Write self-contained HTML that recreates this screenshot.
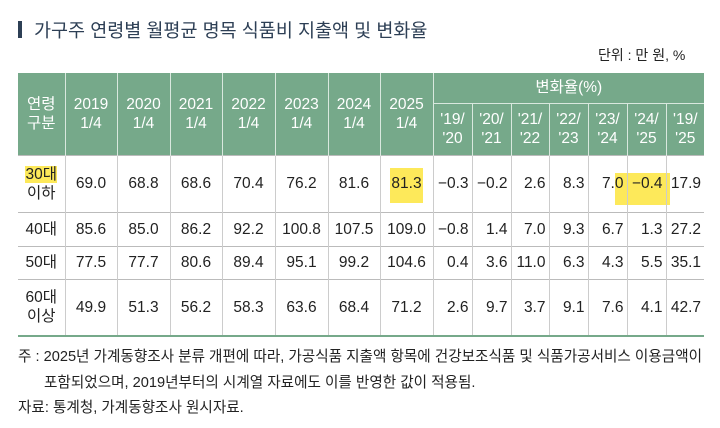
<!DOCTYPE html>
<html><head><meta charset="utf-8"><style>
body{margin:0;width:720px;height:428px;background:#fff;font-family:"Liberation Sans","Noto Sans CJK KR",sans-serif;color:#222;position:relative;overflow:hidden}
.a{position:absolute}
table{position:absolute;left:18px;top:73px;border-collapse:collapse;table-layout:fixed;width:686px}
td,th{padding:0;text-align:center;font-size:15.5px;font-weight:normal;line-height:19px}
th{background:#76a98a;color:#fff;border-left:1.5px solid #d9e8de;border-right:1.5px solid #d9e8de}
th:first-child{border-left:none}
td{border-left:1px solid #ccc;border-top:1px solid #bbb;color:#222}
td:first-child{border-left:none}
td.r{text-align:right;padding-right:3px}
.hl{background:#fde95a}
</style></head><body>
<div class="a" style="left:18px;top:21px;width:4px;height:17px;background:#2d3f55"></div>
<div class="a" style="left:34px;top:17px;font-size:18.5px;color:#2d3f55">가구주 연령별 월평균 명목 식품비 지출액 및 변화율</div>
<div class="a" style="left:598px;top:45px;font-size:14px;color:#222">단위 : 만 원, %</div>
<div class="a hl" style="left:390px;top:168px;width:33px;height:35px"></div>
<div class="a hl" style="left:615px;top:173px;width:55px;height:32px"></div>
<table>
<colgroup><col style="width:47px"><col style="width:52px"><col style="width:53px"><col style="width:52px"><col style="width:53px"><col style="width:53px"><col style="width:52px"><col style="width:53px"><col style="width:39px"><col style="width:39px"><col style="width:38px"><col style="width:39px"><col style="width:39px"><col style="width:39px"><col style="width:38px"></colgroup>
<tr style="height:30px"><th rowspan="2">연령<br>구분</th><th rowspan="2">2019<br>1/4</th><th rowspan="2">2020<br>1/4</th><th rowspan="2">2021<br>1/4</th><th rowspan="2">2022<br>1/4</th><th rowspan="2">2023<br>1/4</th><th rowspan="2">2024<br>1/4</th><th rowspan="2">2025<br>1/4</th><th colspan="7" style="border-bottom:1.5px solid #d9e8de;border-right:none">변화율(%)</th></tr>
<tr style="height:52px"><th>'19/<br>'20</th><th>'20/<br>'21</th><th>'21/<br>'22</th><th>'22/<br>'23</th><th>'23/<br>'24</th><th>'24/<br>'25</th><th style="border-right:none">'19/<br>'25</th></tr>
<tr style="height:57px"><td><span class="hl">30대</span><br>이하</td><td>69.0</td><td>68.8</td><td>68.6</td><td>70.4</td><td>76.2</td><td>81.6</td><td style="background:transparent">81.3</td><td class="r">−0.3</td><td class="r">−0.2</td><td class="r">2.6</td><td class="r">8.3</td><td class="r">7.0</td><td class="r">−0.4</td><td class="r">17.9</td></tr>
<tr style="height:34px"><td>40대</td><td>85.6</td><td>85.0</td><td>86.2</td><td>92.2</td><td>100.8</td><td>107.5</td><td>109.0</td><td class="r">−0.8</td><td class="r">1.4</td><td class="r">7.0</td><td class="r">9.3</td><td class="r">6.7</td><td class="r">1.3</td><td class="r">27.2</td></tr>
<tr style="height:33px"><td>50대</td><td>77.5</td><td>77.7</td><td>80.6</td><td>89.4</td><td>95.1</td><td>99.2</td><td>104.6</td><td class="r">0.4</td><td class="r">3.6</td><td class="r">11.0</td><td class="r">6.3</td><td class="r">4.3</td><td class="r">5.5</td><td class="r">35.1</td></tr>
<tr style="height:56px"><td>60대<br>이상</td><td>49.9</td><td>51.3</td><td>56.2</td><td>58.3</td><td>63.6</td><td>68.4</td><td>71.2</td><td class="r">2.6</td><td class="r">9.7</td><td class="r">3.7</td><td class="r">9.1</td><td class="r">7.6</td><td class="r">4.1</td><td class="r">42.7</td></tr>
</table>
<div class="a" style="left:18px;top:335px;width:686px;height:2px;background:#76a98a"></div>
<div class="a" style="left:18px;top:344px;font-size:14.6px;line-height:26px;color:#222;white-space:nowrap">주 : 2025년 가계동향조사 분류 개편에 따라, 가공식품 지출액 항목에 건강보조식품 및 식품가공서비스 이용금액이<br><span style="padding-left:26px">포함되었으며, 2019년부터의 시계열 자료에도 이를 반영한 값이 적용됨.</span></div>
<div class="a" style="left:18px;top:396px;font-size:14.6px;color:#222">자료: 통계청, 가계동향조사 원시자료.</div>
</body></html>
